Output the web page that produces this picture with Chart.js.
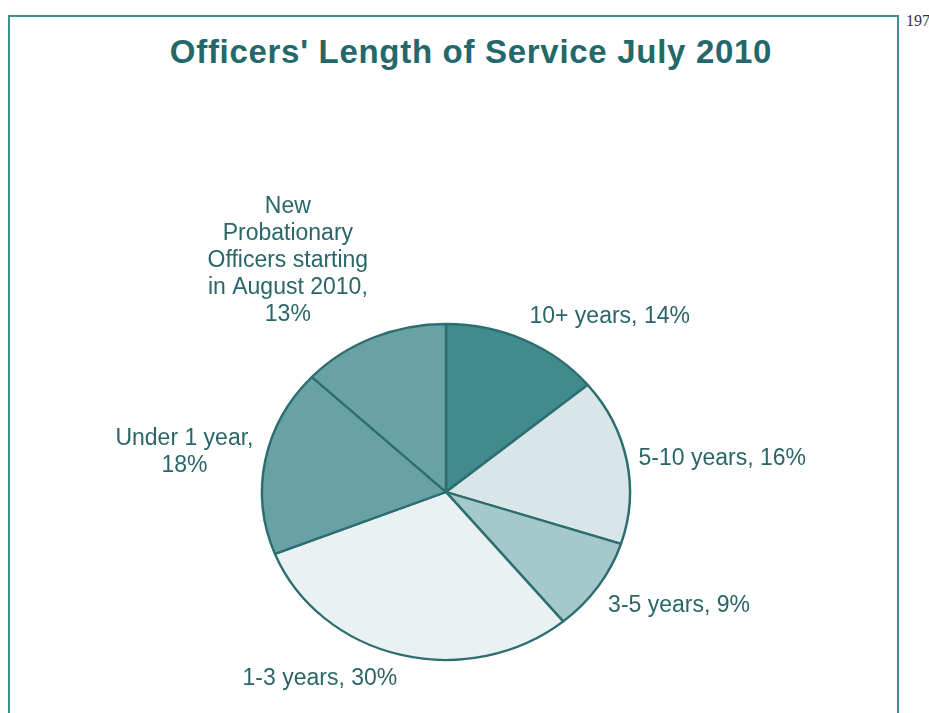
<!DOCTYPE html>
<html>
<head>
<meta charset="utf-8">
<script src="https://cdn.jsdelivr.net/npm/chart.js@4/dist/chart.umd.min.js"></script>
<style>
  html, body { margin: 0; padding: 0; background: #ffffff; }
  #wrap { position: relative; width: 929px; height: 713px; overflow: hidden; }
  #frame { position: absolute; left: 8px; top: 15px; width: 891px; height: 720px; border: 2px solid #3f8f91; box-sizing: border-box; }
  #title { position: absolute; left: 0; width: 942px; top: 36px; line-height: 32px; text-align: center; font-family: "Liberation Sans", Arial, sans-serif; font-weight: bold; font-size: 33px; letter-spacing: 0.7px; color: #23686a; white-space: nowrap; }
  #page { position: absolute; left: 906px; top: 12px; font-family: "Liberation Serif", "DejaVu Serif", serif; font-size: 16px; color: #333; }
  canvas { position: absolute; left: 0; top: 0; }
</style>
</head>
<body>
<div id="wrap">
  <div id="frame"></div>
  <div id="title">Officers' Length of Service July 2010</div>
  <div id="page">197</div>
  <canvas id="c" width="929" height="713"></canvas>
</div>
<script>
const categories = [
  "10+ years",
  "5-10 years",
  "3-5 years",
  "1-3 years",
  "Under 1 year",
  "New Probationary Officers starting in August 2010"
];
const values = [14, 16, 9, 30, 18, 13];
const labelLines = [
  ["10+ years, 14%"],
  ["5-10 years, 16%"],
  ["3-5 years, 9%"],
  ["1-3 years, 30%"],
  ["Under 1 year,", "18%"],
  ["New", "Probationary", "Officers starting", "in August 2010,", "13%"]
];
const sliceColors = ["#418a8d", "#d8e6e7", "#a5c8cb", "#e9f1f2", "#68a2a7", "#68a2a7"];

const SY = 0.913;       // vertical squash of the pie (ellipse)
const LABEL_PAD = 12;
const LINE_H = 27;

const squash = {
  id: 'squash',
  beforeDatasetsDraw(chart) {
    const m = chart.getDatasetMeta(0).data[0];
    const ctx = chart.ctx;
    ctx.save();
    ctx.translate(m.x, m.y);
    ctx.scale(1, SY);
    ctx.translate(-m.x, -m.y);
  },
  afterDatasetsDraw(chart) {
    chart.ctx.restore();
    const ctx = chart.ctx;
    const meta = chart.getDatasetMeta(0);
    ctx.save();
    ctx.font = '23px "Liberation Sans", Arial, sans-serif';
    ctx.fillStyle = '#2a6668';
    ctx.textBaseline = 'middle';
    ctx.textAlign = 'center';
    meta.data.forEach((arc, i) => {
      const a = (arc.startAngle + arc.endAngle) / 2;
      const r = arc.outerRadius + LABEL_PAD;
      const ax = arc.x + r * Math.cos(a);
      const ay = arc.y + r * Math.sin(a) * SY;
      const lines = labelLines[i];
      const w = Math.max(...lines.map(t => ctx.measureText(t).width));
      const h = lines.length * LINE_H;
      const cx = Math.cos(a), sy = Math.sin(a);
      let left;
      if (cx > 0.2) left = ax; else if (cx < -0.2) left = ax - w; else left = ax - w / 2;
      let top;
      if (sy < -0.3) top = ay - h; else if (sy > 0.3) top = ay; else top = ay - h / 2 - (lines.length - 1) * 6;
      lines.forEach((t, k) => {
        ctx.fillText(t, left + w / 2, top + LINE_H * (k + 0.5));
      });
    });
    ctx.restore();
  }
};

new Chart(document.getElementById('c'), {
  type: 'pie',
  data: {
    labels: categories,
    datasets: [{
      data: values,
      backgroundColor: sliceColors,
      borderColor: '#2d6e70',
      borderWidth: 2.5,
      clip: false
    }]
  },
  options: {
    responsive: false,
    animation: false,
    events: [],
    radius: 184,
    layout: { padding: { left: 262, right: 299, top: 308, bottom: 37 } },
    plugins: {
      legend: { display: false },
      title: { display: false },
      tooltip: { enabled: false }
    }
  },
  plugins: [squash]
});
</script>
</body>
</html>
